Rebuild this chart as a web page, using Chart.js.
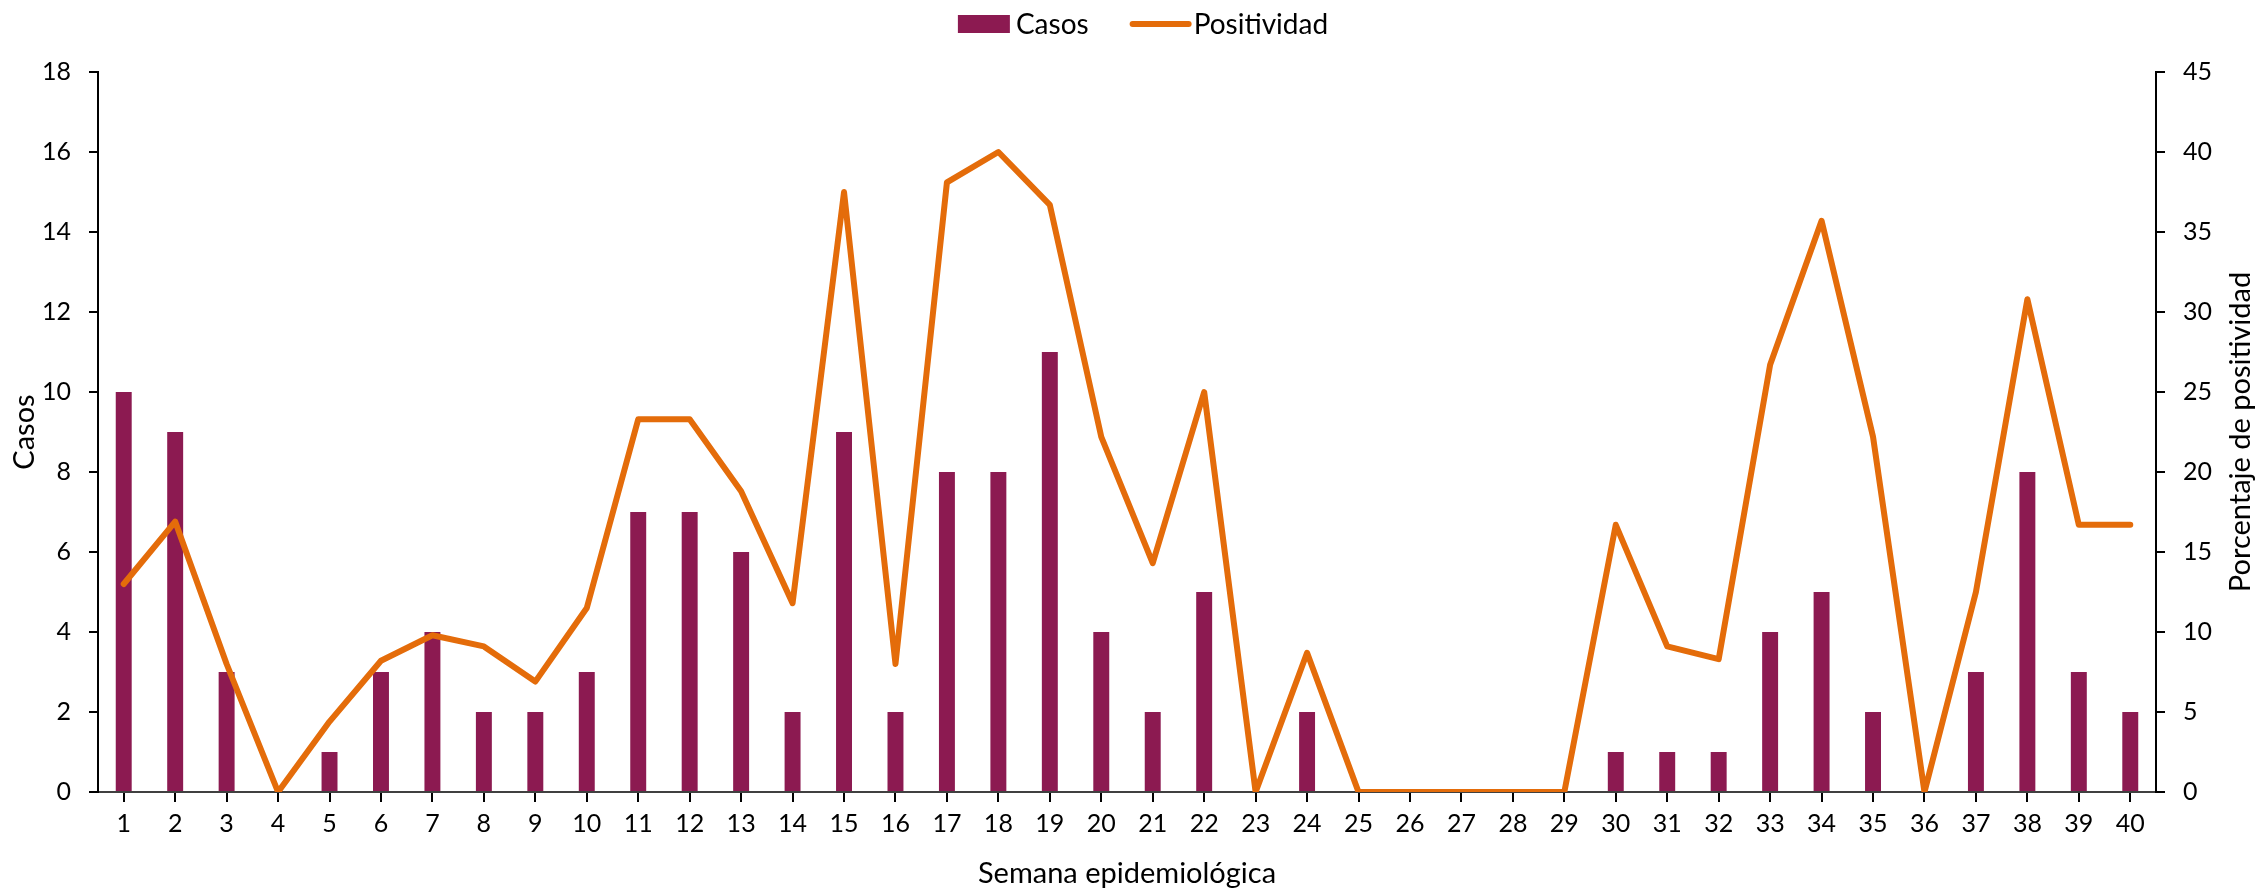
<!DOCTYPE html>
<html>
<head>
<meta charset="utf-8">
<script src="https://cdn.jsdelivr.net/npm/chart.js@4/dist/chart.umd.min.js"></script>
<style>
  body { margin: 0; background: #fff; }
  #wrap { width: 2258px; height: 891px; }
</style>
</head>
<body>
<div id="wrap"><canvas id="grafico" width="2258" height="891"></canvas></div>
<script>
// semanas epidemiologicas 1..40
const semanas = ['1','2','3','4','5','6','7','8','9','10','11','12','13','14','15','16','17','18','19','20',
                 '21','22','23','24','25','26','27','28','29','30','31','32','33','34','35','36','37','38','39','40'];
const casos = [10, 9, 3, 0, 1, 3, 4, 2, 2, 3, 7, 7, 6, 2, 9, 2, 8, 8, 11, 4,
               2, 5, 0, 2, 0, 0, 0, 0, 0, 1, 1, 1, 4, 5, 2, 0, 3, 8, 3, 2];
const positividad = [13.0, 16.9, 8.0, 0, 4.4, 8.2, 9.8, 9.1, 6.9, 11.5, 23.3, 23.3, 18.8, 11.8, 37.5, 8.0, 38.1, 40.0, 36.7, 22.2,
                     14.3, 25.0, 0, 8.7, 0, 0, 0, 0, 0, 16.7, 9.1, 8.3, 26.7, 35.7, 22.2, 0, 12.5, 30.8, 16.7, 16.7];
const ticksCasos = { min: 0, max: 18, step: 2 };
const ticksPorc = { min: 0, max: 45, step: 5 };

const colorBarra = '#8C1A51';
const colorLinea = '#E46C0A';
const fuente = 'Lato, "Open Sans", sans-serif';

// leyenda y titulo derecho dibujados a mano (el titulo del eje derecho va de abajo hacia arriba)
const extras = {
  id: 'extras',
  afterDraw(chart) {
    const ctx = chart.ctx;
    const area = chart.chartArea;
    ctx.save();
    ctx.font = '28px ' + fuente;
    ctx.fillStyle = '#000';
    ctx.textBaseline = 'middle';
    const t1 = chart.data.datasets[0].label, t2 = chart.data.datasets[1].label;
    const w1 = ctx.measureText(t1).width, w2 = ctx.measureText(t2).width;
    const total = 52 + 6 + w1 + 44 + 56 + 5 + w2;
    let x = chart.width / 2 + 14 - total / 2;
    const y = 24;
    ctx.fillStyle = colorBarra;
    ctx.fillRect(x, y - 9, 52, 18);
    x += 58;
    ctx.fillStyle = '#000';
    ctx.fillText(t1, x, y + 1);
    x += w1 + 44;
    ctx.strokeStyle = colorLinea;
    ctx.lineWidth = 6;
    ctx.lineCap = 'round';
    ctx.beginPath();
    ctx.moveTo(x, y);
    ctx.lineTo(x + 56, y);
    ctx.stroke();
    x += 61;
    ctx.fillText(t2, x, y + 1);

    // titulo eje derecho
    ctx.font = '29px ' + fuente;
    ctx.textAlign = 'center';
    ctx.translate(2241, (area.top + area.bottom) / 2);
    ctx.rotate(-Math.PI / 2);
    ctx.fillText('Porcentaje de positividad', 0, 0);
    ctx.restore();
  }
};

new Chart(document.getElementById('grafico'), {
  data: {
    labels: semanas,
    datasets: [
      {
        type: 'bar',
        label: 'Casos',
        data: casos,
        backgroundColor: colorBarra,
        yAxisID: 'y',
        barPercentage: 0.31,
        categoryPercentage: 1.0,
        order: 1
      },
      {
        type: 'line',
        label: 'Positividad',
        data: positividad,
        borderColor: colorLinea,
        backgroundColor: colorLinea,
        borderWidth: 6,
        pointRadius: 0,
        tension: 0,
        borderJoinStyle: 'round',
        borderCapStyle: 'round',
        yAxisID: 'y1',
        order: 0
      }
    ]
  },
  options: {
    responsive: false,
    devicePixelRatio: 1,
    animation: false,
    layout: { padding: { top: 72, left: 0, right: 0, bottom: 0 } },
    plugins: {
      legend: { display: false },
      tooltip: { enabled: false }
    },
    scales: {
      x: {
        offset: true,
        grid: { drawOnChartArea: false, offset: false, tickLength: 10, tickColor: '#000', lineWidth: 2 },
        border: { color: '#404040', width: 2 },
        ticks: { color: '#000', font: { family: fuente, size: 25 }, padding: 7, maxRotation: 0, autoSkip: false },
        title: { display: true, text: 'Semana epidemiológica', color: '#000', font: { family: fuente, size: 29 }, padding: { top: 0, bottom: 0 } },
        afterFit(scale) { scale.height = 99; }
      },
      y: {
        position: 'left',
        min: ticksCasos.min,
        max: ticksCasos.max,
        grid: { drawOnChartArea: false, tickLength: 9, tickColor: '#000', lineWidth: 2 },
        border: { color: '#000', width: 2 },
        ticks: { stepSize: ticksCasos.step, color: '#000', font: { family: fuente, size: 25 }, padding: 18 },
        title: { display: true, text: 'Casos', color: '#000', font: { family: fuente, size: 29 }, padding: { top: 7, bottom: 0 } },
        afterFit(scale) { scale.width = 98; }
      },
      y1: {
        position: 'right',
        min: ticksPorc.min,
        max: ticksPorc.max,
        grid: { drawOnChartArea: false, tickLength: 9, tickColor: '#000', lineWidth: 2 },
        border: { color: '#000', width: 2 },
        ticks: { stepSize: ticksPorc.step, color: '#000', font: { family: fuente, size: 25 }, padding: 18 },
        afterFit(scale) { scale.width = 102; }
      }
    }
  },
  plugins: [extras]
});
</script>
</body>
</html>
